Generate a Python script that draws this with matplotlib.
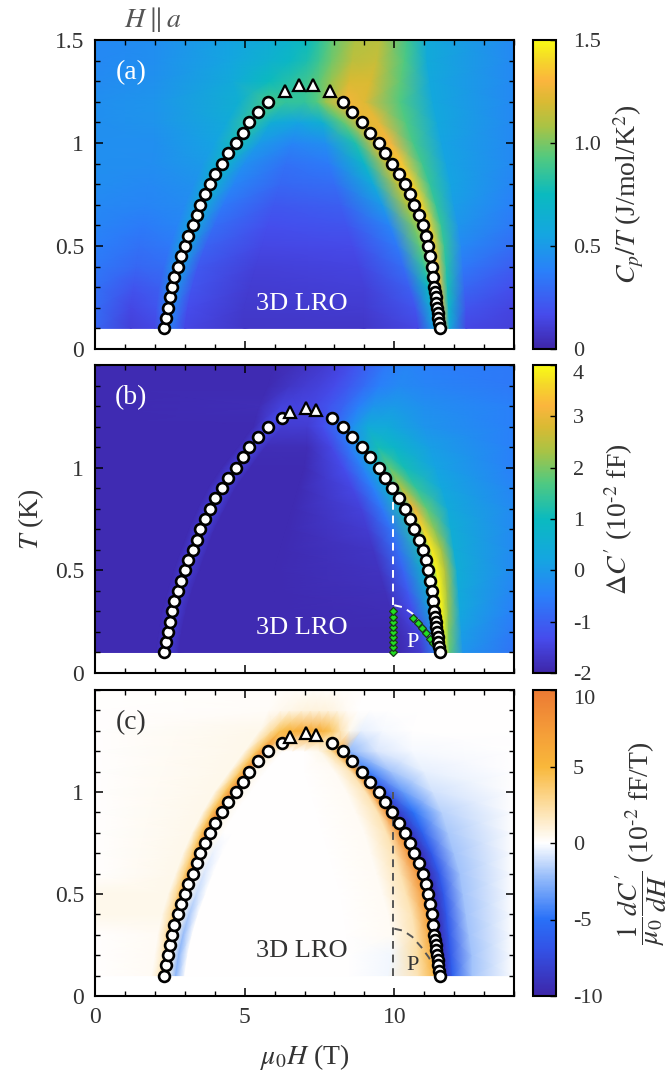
import numpy as np
import matplotlib.pyplot as plt
from matplotlib.colors import LinearSegmentedColormap
from matplotlib.ticker import MultipleLocator, FixedLocator

plt.rcParams['font.family'] = ['Liberation Serif', 'DejaVu Serif']
plt.rcParams['mathtext.fontset'] = 'stix'
plt.rcParams['axes.unicode_minus'] = False

TXT = '#333333'

# ---- phase boundary points ----
left_T = [0.10, 0.15, 0.20, 0.25, 0.30, 0.35, 0.40, 0.45, 0.50, 0.55, 0.60, 0.65,
          0.70, 0.75, 0.80, 0.85, 0.90, 0.95, 1.00, 1.05, 1.10, 1.15, 1.20, 1.24]
left_H = [2.31, 2.37, 2.44, 2.49, 2.57, 2.64, 2.76, 2.88, 3.01, 3.11, 3.28, 3.41,
          3.51, 3.66, 3.83, 4.02, 4.23, 4.46, 4.72, 4.95, 5.15, 5.45, 5.79, 6.25]
right_T = [1.24, 1.20, 1.15, 1.10, 1.05, 1.00, 0.95, 0.90, 0.85, 0.80, 0.75, 0.70,
           0.65, 0.60, 0.55, 0.50, 0.45, 0.40, 0.35, 0.30, 0.275, 0.25, 0.225,
           0.20, 0.175, 0.15, 0.125, 0.10]
right_H = [7.93, 8.30, 8.60, 8.93, 9.20, 9.48, 9.70, 9.93, 10.15, 10.35, 10.52, 10.67,
           10.83, 10.96, 11.06, 11.14, 11.20, 11.26, 11.30, 11.34, 11.37, 11.39, 11.41,
           11.43, 11.45, 11.47, 11.49, 11.52]
tri_H = [6.50, 7.05, 7.40]
tri_T = [1.27, 1.29, 1.28]
tri_a_H = [6.35, 6.80, 7.30, 7.85]
tri_a_T = [1.25, 1.28, 1.28, 1.25]

# extra features in (b) and (c)
vline_b_T = [0.33, 0.84]
vline_c_T = [0.10, 1.00]
arc_H = [10.0, 10.3, 10.6, 10.9, 11.15, 11.35, 11.45]
arc_T = [0.33, 0.32, 0.29, 0.24, 0.19, 0.14, 0.11]
dia_H = [9.97] * 9 + [10.61, 10.79, 10.94, 11.07, 11.20, 11.29]
dia_T = [0.10, 0.125, 0.15, 0.175, 0.20, 0.225, 0.25, 0.275, 0.30,
         0.268, 0.244, 0.22, 0.196, 0.168, 0.144]

# ---- colour maps: rows of (H knots, values) at each temperature ----
rows_T = [0.1, 0.2, 0.3, 0.4, 0.5, 0.6, 0.7, 0.8, 0.9, 1.0, 1.1, 1.2, 1.3, 1.4, 1.5]

a_H = [
    [0, 1.2, 2.0, 2.45, 3.0, 5.0, 9.0, 10.8, 11.35, 11.62, 11.85, 12.4, 14],
    [0, 1.2, 2.05, 2.52, 3.1, 5.0, 9.0, 10.7, 11.25, 11.58, 11.82, 12.4, 14],
    [0, 1.3, 2.15, 2.65, 3.25, 5.2, 9.0, 10.5, 11.15, 11.5, 11.78, 12.35, 14],
    [0, 1.4, 2.3, 2.83, 3.45, 5.4, 8.8, 10.3, 11.0, 11.42, 11.74, 12.3, 14],
    [0, 1.5, 2.5, 3.05, 3.7, 5.6, 8.6, 10.1, 10.85, 11.32, 11.68, 12.25, 14],
    [0, 1.6, 2.75, 3.32, 4.0, 5.8, 8.4, 9.85, 10.65, 11.15, 11.58, 12.15, 14],
    [0, 1.7, 3.0, 3.6, 4.3, 6.0, 8.2, 9.6, 10.4, 10.9, 11.4, 12.0, 14],
    [0, 1.8, 3.3, 3.92, 4.65, 6.2, 8.0, 9.3, 10.1, 10.6, 11.2, 11.9, 14],
    [0, 1.9, 3.6, 4.3, 5.0, 6.4, 7.8, 9.0, 9.75, 10.25, 10.95, 11.75, 14],
    [0, 2.0, 4.0, 4.8, 5.5, 6.6, 7.7, 8.7, 9.35, 9.85, 10.65, 11.6, 14],
    [0, 2.0, 4.4, 5.2, 5.9, 6.8, 7.6, 8.3, 8.9, 9.45, 10.4, 11.45, 14],
    [0, 2.0, 4.8, 5.8, 6.4, 7.0, 7.4, 7.7, 8.4, 9.0, 10.2, 11.3, 14],
    [0, 2.0, 4.6, 5.8, 6.5, 7.1, 7.5, 7.9, 8.5, 9.2, 10.2, 11.2, 14],
    [0, 2.0, 4.5, 5.8, 6.5, 7.1, 7.5, 7.9, 8.6, 9.4, 10.35, 11.1, 14],
    [0, 2.0, 4.5, 5.8, 6.5, 7.1, 7.5, 7.9, 8.7, 9.5, 10.45, 11.1, 14],
]
a_V = [
    [0.28, 0.12, 0.15, 0.40, 0.15, 0.08, 0.08, 0.15, 0.55, 1.25, 0.60, 0.15, 0.12],
    [0.30, 0.15, 0.20, 0.45, 0.17, 0.09, 0.10, 0.20, 0.65, 1.30, 0.70, 0.20, 0.14],
    [0.32, 0.20, 0.25, 0.50, 0.20, 0.10, 0.12, 0.25, 0.75, 1.32, 0.78, 0.28, 0.18],
    [0.35, 0.28, 0.30, 0.55, 0.22, 0.12, 0.14, 0.30, 0.85, 1.33, 0.82, 0.35, 0.24],
    [0.38, 0.32, 0.35, 0.60, 0.26, 0.15, 0.16, 0.35, 0.95, 1.36, 0.85, 0.42, 0.30],
    [0.40, 0.36, 0.40, 0.62, 0.30, 0.18, 0.20, 0.40, 1.00, 1.38, 0.85, 0.48, 0.35],
    [0.42, 0.40, 0.43, 0.65, 0.35, 0.22, 0.25, 0.50, 1.08, 1.38, 0.85, 0.52, 0.38],
    [0.44, 0.42, 0.46, 0.68, 0.40, 0.28, 0.30, 0.60, 1.12, 1.38, 0.85, 0.55, 0.40],
    [0.45, 0.44, 0.50, 0.72, 0.45, 0.32, 0.36, 0.70, 1.15, 1.35, 0.88, 0.55, 0.42],
    [0.45, 0.45, 0.55, 0.78, 0.50, 0.40, 0.45, 0.80, 1.20, 1.30, 0.90, 0.55, 0.42],
    [0.45, 0.47, 0.60, 0.85, 0.62, 0.55, 0.65, 0.95, 1.22, 1.25, 0.92, 0.58, 0.42],
    [0.45, 0.48, 0.65, 0.90, 0.85, 0.85, 0.92, 1.05, 1.28, 1.22, 0.92, 0.58, 0.42],
    [0.43, 0.46, 0.60, 0.75, 0.82, 0.88, 0.95, 1.05, 1.20, 1.20, 0.95, 0.58, 0.42],
    [0.42, 0.45, 0.56, 0.66, 0.72, 0.80, 0.88, 0.98, 1.13, 1.15, 0.92, 0.60, 0.42],
    [0.42, 0.44, 0.55, 0.62, 0.68, 0.75, 0.84, 0.95, 1.10, 1.12, 0.88, 0.60, 0.42],
]

b_H = [
    [0, 2.05, 2.4, 2.8, 6.0, 10.2, 10.9, 11.45, 11.66, 11.85, 12.3, 14],
    [0, 2.15, 2.5, 2.9, 6.0, 10.1, 10.8, 11.38, 11.62, 11.82, 12.25, 14],
    [0, 2.25, 2.62, 3.05, 6.0, 9.9, 10.6, 11.3, 11.58, 11.8, 12.2, 14],
    [0, 2.45, 2.82, 3.25, 6.0, 9.7, 10.45, 11.22, 11.52, 11.76, 12.15, 14],
    [0, 2.65, 3.05, 3.5, 6.0, 9.5, 10.3, 11.1, 11.42, 11.7, 12.1, 14],
    [0, 2.9, 3.3, 3.75, 6.2, 9.3, 10.1, 10.95, 11.25, 11.58, 12.0, 14],
    [0, 3.15, 3.58, 4.0, 6.4, 9.1, 9.9, 10.68, 10.97, 11.35, 11.9, 14],
    [0, 3.45, 3.9, 4.35, 6.6, 8.9, 9.6, 10.35, 10.65, 11.1, 11.8, 14],
    [0, 3.8, 4.25, 4.7, 6.8, 8.6, 9.3, 9.95, 10.25, 10.75, 11.6, 14],
    [0, 4.25, 4.75, 5.2, 7.0, 8.3, 8.95, 9.5, 9.85, 10.35, 11.4, 14],
    [0, 4.8, 5.25, 5.7, 7.1, 7.9, 8.5, 9.0, 9.45, 10.0, 11.2, 14],
    [0, 5.3, 5.85, 6.3, 7.1, 7.6, 8.1, 8.6, 9.1, 9.8, 11.0, 14],
    [0, 5.5, 6.2, 6.8, 7.3, 7.8, 8.3, 8.8, 9.3, 10.0, 11.0, 14],
    [0, 5.8, 6.5, 7.0, 7.5, 8.0, 8.5, 9.0, 9.5, 10.2, 11.0, 14],
    [0, 6.0, 6.7, 7.2, 7.7, 8.2, 8.7, 9.2, 9.7, 10.4, 11.0, 14],
]
b_V = [
    [-1.9, -1.9, -1.5, -1.9, -1.9, -1.9, -1.6, -0.3, 3.8, 1.8, -0.1, -0.7],
    [-1.9, -1.9, -1.5, -1.9, -1.9, -1.9, -1.5, 0.0, 3.9, 2.0, 0.1, -0.6],
    [-1.9, -1.9, -1.5, -1.9, -1.9, -1.85, -1.3, 0.4, 3.9, 2.2, 0.3, -0.5],
    [-1.9, -1.9, -1.5, -1.9, -1.9, -1.8, -1.1, 0.8, 3.9, 2.3, 0.4, -0.4],
    [-1.9, -1.9, -1.5, -1.9, -1.9, -1.75, -0.9, 1.0, 3.9, 2.4, 0.5, -0.3],
    [-1.9, -1.9, -1.45, -1.9, -1.9, -1.7, -0.8, 1.2, 3.8, 2.3, 0.5, -0.3],
    [-1.9, -1.9, -1.4, -1.9, -1.9, -1.6, -0.7, 1.3, 3.6, 2.1, 0.5, -0.3],
    [-1.9, -1.9, -1.4, -1.9, -1.9, -1.5, -0.6, 1.2, 3.1, 1.8, 0.4, -0.3],
    [-1.9, -1.9, -1.4, -1.9, -1.9, -1.4, -0.5, 1.0, 2.4, 1.4, 0.3, -0.4],
    [-1.9, -1.9, -1.4, -1.9, -1.9, -1.3, -0.4, 0.8, 1.8, 1.1, 0.2, -0.5],
    [-1.9, -1.9, -1.4, -1.85, -1.85, -1.4, -0.6, 0.3, 1.1, 0.8, 0.1, -0.5],
    [-1.9, -1.9, -1.35, -1.6, -1.6, -1.3, -0.8, -0.2, 0.4, 0.4, -0.1, -0.5],
    [-1.9, -1.85, -1.5, -1.45, -1.4, -1.2, -0.9, -0.5, -0.1, 0.0, -0.2, -0.5],
    [-1.9, -1.9, -1.7, -1.6, -1.5, -1.35, -1.1, -0.8, -0.5, -0.3, -0.4, -0.6],
    [-1.9, -1.9, -1.8, -1.7, -1.6, -1.45, -1.2, -0.9, -0.6, -0.4, -0.5, -0.6],
]

c_H = [
    [0, 1.9, 2.15, 2.28, 2.45, 2.7, 3.0, 8.5, 9.8, 10.8, 11.4, 11.66, 11.95, 12.6, 14],
    [0, 2.0, 2.25, 2.38, 2.55, 2.8, 3.1, 8.5, 9.9, 10.8, 11.3, 11.58, 11.88, 12.6, 14],
    [0, 2.1, 2.35, 2.5, 2.68, 2.95, 3.25, 8.4, 9.9, 10.7, 11.2, 11.5, 11.82, 12.5, 14],
    [0, 2.25, 2.55, 2.68, 2.86, 3.15, 3.45, 8.3, 9.8, 10.6, 11.1, 11.42, 11.75, 12.4, 14],
    [0, 2.45, 2.75, 2.9, 3.08, 3.4, 3.7, 8.2, 9.6, 10.4, 10.98, 11.3, 11.65, 12.3, 14],
    [0, 2.7, 3.0, 3.15, 3.35, 3.65, 3.95, 8.0, 9.4, 10.2, 10.8, 11.12, 11.5, 12.2, 14],
    [0, 2.95, 3.25, 3.42, 3.62, 3.95, 4.25, 7.8, 9.2, 10.0, 10.5, 10.85, 11.25, 12.0, 14],
    [0, 3.25, 3.55, 3.72, 3.95, 4.3, 4.6, 7.6, 9.0, 9.75, 10.18, 10.52, 10.95, 11.8, 14],
    [0, 3.6, 3.9, 4.08, 4.3, 4.7, 5.0, 7.4, 8.7, 9.45, 9.75, 10.12, 10.65, 11.6, 14],
    [0, 4.0, 4.35, 4.55, 4.8, 5.2, 5.5, 7.2, 8.4, 9.05, 9.3, 9.65, 10.3, 11.3, 14],
    [0, 4.5, 4.85, 5.05, 5.3, 5.7, 6.0, 7.0, 8.0, 8.55, 8.75, 9.1, 9.9, 11.0, 14],
    [0, 5.0, 5.4, 5.6, 5.95, 6.3, 6.6, 7.0, 7.5, 7.9, 8.15, 8.5, 9.4, 10.6, 14],
    [0, 5.5, 5.9, 6.2, 6.6, 7.0, 7.3, 7.6, 7.9, 8.2, 8.5, 8.9, 9.6, 10.6, 14],
    [0, 5.8, 6.2, 6.5, 6.9, 7.2, 7.5, 7.8, 8.1, 8.4, 8.8, 9.2, 9.8, 10.8, 14],
    [0, 6.0, 6.4, 6.7, 7.0, 7.3, 7.6, 7.9, 8.2, 8.5, 9.0, 9.4, 10.0, 11.0, 14],
]
c_V = [
    [0, 0.3, 1.5, 3.0, 0.5, -2.5, 0, 0, -0.3, 2.0, 5.5, -9.5, -6.0, -2.0, 0],
    [0, 0.3, 1.5, 3.5, 0.5, -2.5, 0, 0, -0.3, 2.5, 6.0, -9.5, -6.5, -2.0, 0],
    [0, 0.3, 2.0, 4.5, 0.5, -2.2, 0, 0, 0.3, 2.0, 6.5, -9.5, -6.5, -2.0, 0],
    [0.5, 0.5, 2.5, 5.5, 0.5, -1.8, 0, 0, 0.3, 2.0, 7.0, -9.5, -6.5, -2.0, 0],
    [0.5, 0.5, 3.0, 6.5, 0.5, -1.2, 0, 0, 0.3, 2.0, 7.5, -9.5, -6.5, -2.0, 0],
    [0, 0.5, 3.5, 7.0, 0.5, -0.8, 0, 0, 0.3, 2.0, 8.0, -9.5, -6.5, -2.0, 0],
    [0, 0.5, 3.5, 7.5, 0.5, -0.4, 0, 0, 0.3, 2.0, 8.0, -9.5, -6.5, -2.0, 0],
    [0, 0.5, 4.0, 8.0, 0.5, 0, 0, 0, 0.3, 2.0, 8.0, -9.0, -6.0, -1.8, 0],
    [0, 0.5, 4.0, 8.0, 0.5, 0, 0, 0, 0.3, 2.0, 8.0, -8.5, -5.0, -1.5, 0],
    [0, 0.5, 4.0, 8.0, 0.5, 0, 0, 0, 0.3, 2.0, 7.5, -7.0, -3.5, -1.0, 0],
    [0, 0.5, 4.0, 8.0, 0.5, 0, 0, 0, 0.3, 2.0, 7.0, -4.5, -2.0, -0.5, 0],
    [0, 0.5, 4.0, 8.0, 1.0, 0, 0, 0, 0.5, 2.5, 6.5, -2.5, -0.8, -0.2, 0],
    [0, 0.5, 2.5, 4.5, 5.5, 6.0, 6.0, 5.5, 4.0, 2.0, 0.5, -0.5, -0.2, 0, 0],
    [0, 0.2, 0.4, 0.6, 0.8, 0.9, 0.9, 0.8, 0.6, 0.3, 0, 0, 0, 0, 0],
    [0, 0.1, 0.2, 0.2, 0.2, 0.2, 0.2, 0.2, 0.1, 0.1, 0, 0, 0, 0, 0],
]

parula = LinearSegmentedColormap.from_list('parula', [
    (0.00, (0.243, 0.149, 0.659)), (0.11, (0.275, 0.294, 0.925)),
    (0.25, (0.165, 0.500, 0.980)), (0.37, (0.080, 0.650, 0.880)),
    (0.50, (0.040, 0.730, 0.750)), (0.62, (0.320, 0.790, 0.500)),
    (0.72, (0.660, 0.765, 0.270)), (0.80, (0.850, 0.730, 0.200)),
    (0.87, (0.985, 0.710, 0.240)), (0.94, (0.960, 0.850, 0.160)),
    (1.00, (0.976, 0.984, 0.080))])
bwo = LinearSegmentedColormap.from_list('bwo', [
    (0.00, (0.240, 0.150, 0.660)), (0.15, (0.200, 0.320, 0.900)),
    (0.25, (0.160, 0.440, 0.970)), (0.38, (0.560, 0.720, 0.980)),
    (0.50, (1.000, 1.000, 1.000)), (0.62, (0.990, 0.870, 0.640)),
    (0.75, (0.975, 0.720, 0.230)), (0.88, (0.955, 0.600, 0.220)),
    (1.00, (0.925, 0.480, 0.200))])

fig = plt.figure(figsize=(6.67, 10.85), dpi=100)
W, Hpx = 667.0, 1085.0
panels = [(40, 349), (365, 673), (690, 996)]
specs = [
    (a_H, a_V, parula, 0, 1.5, [0, 0.5, 1.0, 1.5], ['0', '0.5', '1.0', '1.5'],
     r'$C_p/T$ (J/mol/K$^2$)'),
    (b_H, b_V, parula, -2, 4, [-2, -1, 0, 1, 2, 3, 4], None,
     r"$\Delta C'$ (10$^{\text{-}2}$ fF)"),
    (c_H, c_V, bwo, -10, 10, [-10, -5, 0, 5, 10], None,
     r"$\dfrac{1}{\mu_0}\dfrac{dC'}{dH}$ (10$^{\text{-}2}$ fF/T)"),
]

axes = []
for i, (top, bot) in enumerate(panels):
    ax = fig.add_axes([95 / W, 1 - bot / Hpx, 419 / W, (bot - top) / Hpx])
    cax = fig.add_axes([533 / W, 1 - bot / Hpx, 23 / W, (bot - top) / Hpx])
    Hk, Vk, cmap, vmin, vmax, cticks, clabels, clab = specs[i]
    X = np.array(Hk, dtype=float)
    Y = np.repeat(np.array(rows_T)[:, None], X.shape[1], axis=1)
    m = ax.pcolormesh(X, Y, np.array(Vk, dtype=float), shading='gouraud',
                      cmap=cmap, vmin=vmin, vmax=vmax, rasterized=True)
    cb = fig.colorbar(m, cax=cax, ticks=cticks)
    if clabels:
        cb.ax.set_yticklabels(clabels)
    cb.ax.tick_params(direction='in', length=4, width=1, labelsize=16,
                      colors=TXT, pad=12)
    cb.ax.tick_params(color='k')
    if i > 0:
        # top label sits just under the top edge, as in the reference
        fig.canvas.draw()
        cb.ax.get_yticklabels()[-1].set_va('top')
    cb.outline.set_linewidth(1.5)
    cb.set_label(clab, fontsize=20, color=TXT, labelpad=8)

    ax.set_xlim(0, 14)
    ax.set_ylim(0, 1.5)
    ax.xaxis.set_major_locator(MultipleLocator(5))
    ax.xaxis.set_minor_locator(MultipleLocator(1))
    ax.yaxis.set_minor_locator(MultipleLocator(0.1))
    if i == 0:
        ax.yaxis.set_major_locator(FixedLocator([0, 0.5, 1, 1.5]))
        ax.set_yticklabels(['0', '0.5', '1', '1.5'])
    else:
        ax.yaxis.set_major_locator(FixedLocator([0, 0.5, 1]))
        ax.set_yticklabels(['0', '0.5', '1'])
    ax.tick_params(which='both', direction='in', top=True, right=True,
                   labelsize=17, colors=TXT, pad=8)
    ax.tick_params(which='both', color='k')
    ax.tick_params(which='major', length=6, width=1.1)
    ax.tick_params(which='minor', length=3.5, width=1.0)
    if i < 2:
        ax.tick_params(labelbottom=False)
    for s in ax.spines.values():
        s.set_linewidth(1.5)
    axes.append(ax)

ax_a, ax_b, ax_c = axes

# extras in (b) and (c)
ax_b.plot([9.97, 9.97], vline_b_T, ls=(0, (4, 3)), color='white', lw=1.4, zorder=3)
ax_b.plot(arc_H, arc_T, ls=(0, (4, 3)), color='white', lw=1.4, zorder=3)
ax_b.plot(dia_H, dia_T, 'D', ms=4.5, mfc='#22dd22', mec='#1a3a1a', mew=0.9,
          ls='none', zorder=4)
ax_c.plot([9.97, 9.97], vline_c_T, ls=(0, (4, 3)), color='#555555', lw=1.4, zorder=3)
ax_c.plot(arc_H, arc_T, ls=(0, (4, 3)), color='#555555', lw=1.4, zorder=3)

circ = dict(marker='o', ms=7.8, mfc='white', mec='black', mew=1.9, ls='none',
            zorder=5, clip_on=False)
trik = dict(marker='^', ms=8.5, mfc='white', mec='black', mew=1.6, ls='none',
            zorder=5)
ax_a.plot(left_H[:-1], left_T[:-1], **circ)
ax_a.plot(right_H[1:], right_T[1:], **circ)
ax_a.plot(tri_a_H, tri_a_T, **trik)
for ax in (ax_b, ax_c):
    ax.plot(left_H, left_T, **circ)
    ax.plot(right_H, right_T, **circ)
    ax.plot(tri_H, tri_T, **trik)

labels = [('(a)', 'white'), ('(b)', 'white'), ('(c)', TXT)]
for ax, (lab, col) in zip(axes, labels):
    ax.text(1.2, 1.34, lab, color=col, fontsize=20, ha='center', va='center')
    ax.text(6.9, 0.22, '3D LRO', color=col, fontsize=19, ha='center', va='center')
ax_b.text(10.6, 0.15, 'P', color='white', fontsize=16, ha='center', va='center')
ax_c.text(10.6, 0.15, 'P', color=TXT, fontsize=16, ha='center', va='center')

ax_b.set_ylabel(r'$T$ (K)', fontsize=20, color=TXT, labelpad=6)
ax_c.set_xlabel(r'$\mu_0H$ (T)', fontsize=20, color=TXT, labelpad=10)
fig.text(153 / W, 1 - 20 / Hpx, r'$H \parallel a$', fontsize=20, color='#555555',
         ha='center', va='center')

fig.savefig('out.png', dpi=100)
